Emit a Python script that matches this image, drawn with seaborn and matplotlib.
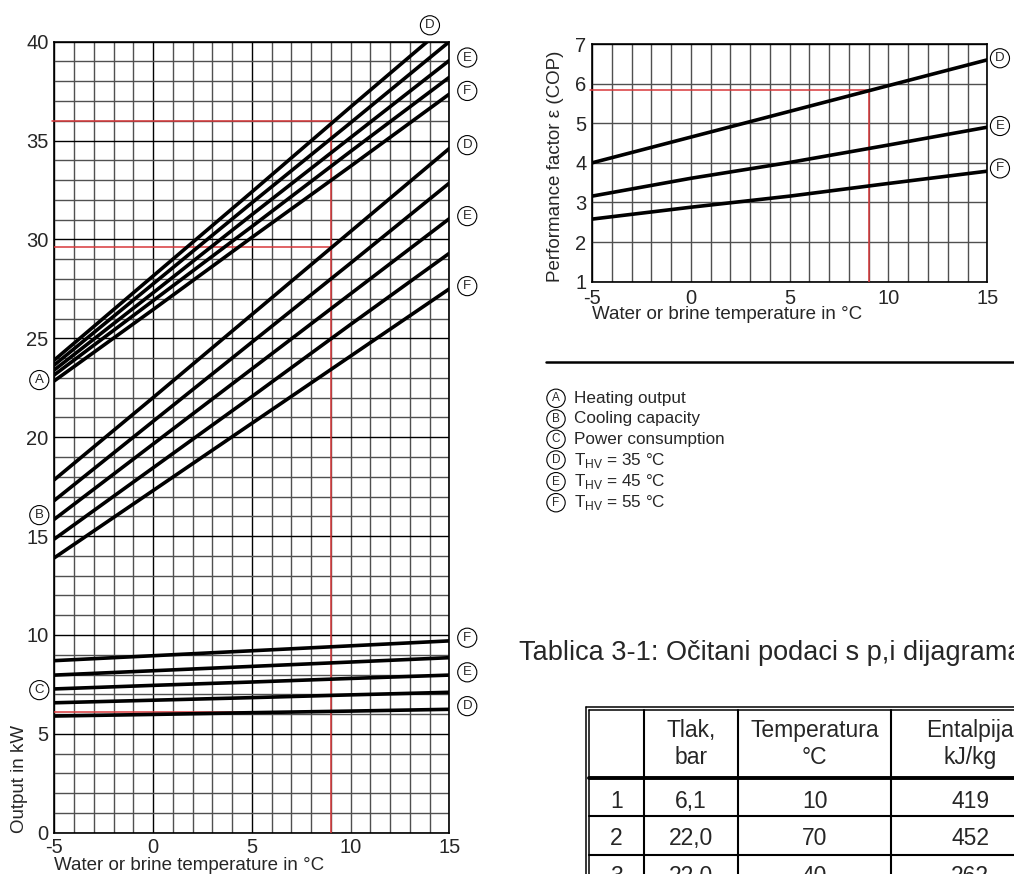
import numpy as np
import pandas as pd
import matplotlib.pyplot as plt
import seaborn as sns
from matplotlib.lines import Line2D

sns.set_style('white')
plt.rcParams['font.family'] = ['Liberation Sans', 'DejaVu Sans']
plt.rcParams['mathtext.fontset'] = 'custom'
plt.rcParams['mathtext.rm'] = 'Liberation Sans'
plt.rcParams['axes.unicode_minus'] = False

# temperatura vode / rasoline
temp = [-5, 0, 5, 10, 15]

# lijevi dijagram: ogrjevni ucin (A), rashladni ucin (B), snaga (C)
heat_35 = [23.9, 28.15, 32.4, 36.7, 40.95]
heat_40 = [23.65, 27.75, 31.85, 35.9, 40.0]
heat_45 = [23.4, 27.3, 31.25, 35.15, 39.05]
heat_50 = [23.15, 26.9, 30.65, 34.45, 38.2]
heat_55 = [22.85, 26.45, 30.1, 33.7, 37.35]

cool_35 = [17.85, 22.0, 26.2, 30.4, 34.6]
cool_40 = [16.8, 20.8, 24.8, 28.8, 32.85]
cool_45 = [15.85, 19.65, 23.45, 27.25, 31.05]
cool_50 = [14.85, 18.45, 22.05, 25.7, 29.3]
cool_55 = [13.9, 17.3, 20.7, 24.1, 27.5]

power_55 = [8.7, 8.95, 9.2, 9.45, 9.7]
power_50 = [7.97, 8.19, 8.41, 8.63, 8.85]
power_45 = [7.27, 7.45, 7.62, 7.8, 7.97]
power_40 = [6.57, 6.7, 6.83, 6.97, 7.1]
power_35 = [5.9, 5.98, 6.07, 6.15, 6.24]

# desni dijagram: COP
cop_35 = [4.0, 4.65, 5.3, 5.95, 6.6]
cop_45 = [3.16, 3.61, 4.01, 4.45, 4.9]
cop_55 = [2.58, 2.88, 3.16, 3.48, 3.79]

# ocitanja (crvene linije)
read_t = 9
read_heat = 36.0
read_cool = 29.6
read_power = 6.12
read_cop = 5.84

# oznake
legend_keys = ['A', 'B', 'C', 'D', 'E', 'F']
legend_texts = ['Heating output', 'Cooling capacity', 'Power consumption',
                r'T$_{\mathrm{HV}}$ = 35 °C', r'T$_{\mathrm{HV}}$ = 45 °C', r'T$_{\mathrm{HV}}$ = 55 °C']

# tablica
tab_caption = 'Tablica 3-1: Očitani podaci s p,i dijagrama'
tab_header = ['', 'Tlak,\nbar', 'Temperatura\n°C', 'Entalpija\nkJ/kg']
tab_state = ['1', '2', '3']
tab_tlak = ['6,1', '22,0', '22,0']
tab_temp = ['10', '70', '40']
tab_ental = ['419', '452', '262']

W, H = 1014, 874
fig = plt.figure(figsize=(W / 100, H / 100), dpi=100)


def fx(px):
    return px / W


def fy(py):
    return 1 - py / H


def grid_lines(ax, xs, ys, major_x, major_y):
    for x in xs:
        c = 'black' if x in major_x else '#505050'
        ax.axvline(x, color=c, lw=1.0, zorder=1)
    for y in ys:
        c = 'black' if y in major_y else '#505050'
        ax.axhline(y, color=c, lw=1.0, zorder=1)


def circ(ax, x, y, s, transform=None, fs=9.5):
    kw = dict(ha='center', va='center', fontsize=fs,
              bbox=dict(boxstyle='circle,pad=0.27', fc='white', ec='black', lw=0.8),
              clip_on=False, zorder=6)
    if transform is not None:
        kw['transform'] = transform
    return ax.text(x, y, s, **kw)


# ---------- lijevi dijagram ----------
ax1 = fig.add_axes([fx(54.3), fy(832.7), fx(449.3 - 54.3), (832.7 - 41.7) / H])
grid_lines(ax1, range(-5, 16), range(0, 41), [-5, 0, 5, 15], [0, 5, 10, 15, 20, 25, 30, 35, 40])

left_lines = [heat_35, heat_40, heat_45, heat_50, heat_55,
              cool_35, cool_40, cool_45, cool_50, cool_55,
              power_55, power_50, power_45, power_40, power_35]
for vals in left_lines:
    df = pd.DataFrame({'t': temp, 'kw': vals})
    sns.lineplot(data=df, x='t', y='kw', ax=ax1, color='black', lw=2.6, zorder=4)

red = '#d9383a'
ax1.plot([-5.1, read_t], [read_heat, read_heat], color=red, lw=1.1, zorder=3, clip_on=False)
ax1.plot([-5, read_t], [read_cool, read_cool], color=red, lw=1.1, zorder=3)
ax1.plot([-5, read_t], [read_power, read_power], color=red, lw=1.1, zorder=3)
ax1.plot([read_t, read_t], [0, read_heat], color=red, lw=1.1, zorder=3)

ax1.set_xlim(-5, 15)
ax1.set_ylim(0, 40)
ax1.set_xticks([-5, 0, 5, 10, 15])
ax1.set_yticks([0, 5, 10, 15, 20, 25, 30, 35, 40])
ax1.tick_params(length=0, labelsize=14.5, pad=4)
ax1.set_xlabel('Water or brine temperature in °C', fontsize=13.5, labelpad=0, loc='left')
ax1.set_ylabel('Output in kW', fontsize=13.5, labelpad=-1, loc='bottom')
for s in ax1.spines.values():
    s.set_linewidth(1.2)
    s.set_color('black')

circ(ax1, 14.02, 40.83, 'D')
circ(ax1, 15.91, 39.2, 'E')
circ(ax1, 15.91, 37.51, 'F')
circ(ax1, 15.91, 34.77, 'D')
circ(ax1, 15.91, 31.18, 'E')
circ(ax1, 15.91, 27.64, 'F')
circ(ax1, -5.76, 22.89, 'A')
circ(ax1, -5.76, 16.06, 'B')
circ(ax1, -5.76, 7.21, 'C')
circ(ax1, 15.91, 9.86, 'F')
circ(ax1, 15.91, 8.11, 'E')
circ(ax1, 15.91, 6.4, 'D')

# ---------- desni dijagram ----------
ax2 = fig.add_axes([fx(592), fy(281.7), fx(987.3 - 592), (281.7 - 44) / H])
grid_lines(ax2, range(-5, 16), range(1, 8), [-5, 15], [1, 7])
for vals in [cop_35, cop_45, cop_55]:
    df = pd.DataFrame({'t': temp, 'cop': vals})
    sns.lineplot(data=df, x='t', y='cop', ax=ax2, color='black', lw=2.6, zorder=4)
ax2.plot([-5.1, read_t], [read_cop, read_cop], color=red, lw=1.1, zorder=3, clip_on=False)
ax2.plot([read_t, read_t], [1, read_cop], color=red, lw=1.1, zorder=3)
ax2.set_xlim(-5, 15)
ax2.set_ylim(1, 7)
ax2.set_xticks([-5, 0, 5, 10, 15])
ax2.set_yticks(range(1, 8))
ax2.tick_params(length=0, labelsize=14.5, pad=4)
ax2.tick_params(axis='x', pad=5)
ax2.set_xlabel('Water or brine temperature in °C', fontsize=13.5, labelpad=-1, loc='left')
ax2.set_ylabel('Performance factor ε (COP)', fontsize=13.5, labelpad=8, loc='bottom')
for s in ax2.spines.values():
    s.set_linewidth(1.2)
    s.set_color('black')
circ(ax2, 15.64, 6.64, 'D')
circ(ax2, 15.64, 4.93, 'E')
circ(ax2, 15.64, 3.86, 'F')

# ---------- legenda ----------
fig.add_artist(Line2D([fx(546), fx(1014)], [fy(361.7), fy(361.7)], color='black', lw=1.8))
leg_y = [398.3, 419.0, 439.3, 460.0, 481.7, 502.7]
for key, txt, py in zip(legend_keys, legend_texts, leg_y):
    circ(fig, fx(556), fy(py), key, transform=fig.transFigure, fs=8.5)
    fig.text(fx(574), fy(py), txt, fontsize=12.3, va='center', ha='left')

# ---------- tablica ----------
fig.text(fx(519), fy(653), tab_caption, fontsize=19.5, va='center', ha='left')

col_x = [586, 644, 738.3, 890.7, 1050]
row_y = [706.7, 777.7, 815.7, 855, 895]
# dvostruki okvir
for off in [0, 3]:
    fig.add_artist(Line2D([fx(586 + off), fx(586 + off)], [fy(706.7 + off), fy(874)], color='black', lw=1.1))
    fig.add_artist(Line2D([fx(586 + off), fx(1014)], [fy(706.7 + off), fy(706.7 + off)], color='black', lw=1.1))
for cx in col_x[1:4]:
    fig.add_artist(Line2D([fx(cx), fx(cx)], [fy(709.7), fy(874)], color='black', lw=1.5))
fig.add_artist(Line2D([fx(589), fx(1014)], [fy(777.7), fy(777.7)], color='black', lw=2.8))
for ry in row_y[2:4]:
    fig.add_artist(Line2D([fx(589), fx(1014)], [fy(ry), fy(ry)], color='black', lw=1.5))

centers = [(col_x[i] + col_x[i + 1]) / 2 + (1.5 if i == 0 else 0) for i in range(4)]
for i, h in enumerate(tab_header):
    fig.text(fx(centers[i]), fy(744), h, fontsize=16.5, ha='center', va='center', linespacing=1.2)
rows_py = [801.7, 838.3, 876]
for r, py in enumerate(rows_py):
    for i, v in enumerate([tab_state[r], tab_tlak[r], tab_temp[r], tab_ental[r]]):
        fig.text(fx(centers[i]), fy(py), v, fontsize=16.5, ha='center', va='center')

fig.savefig('out.png', dpi=100)
